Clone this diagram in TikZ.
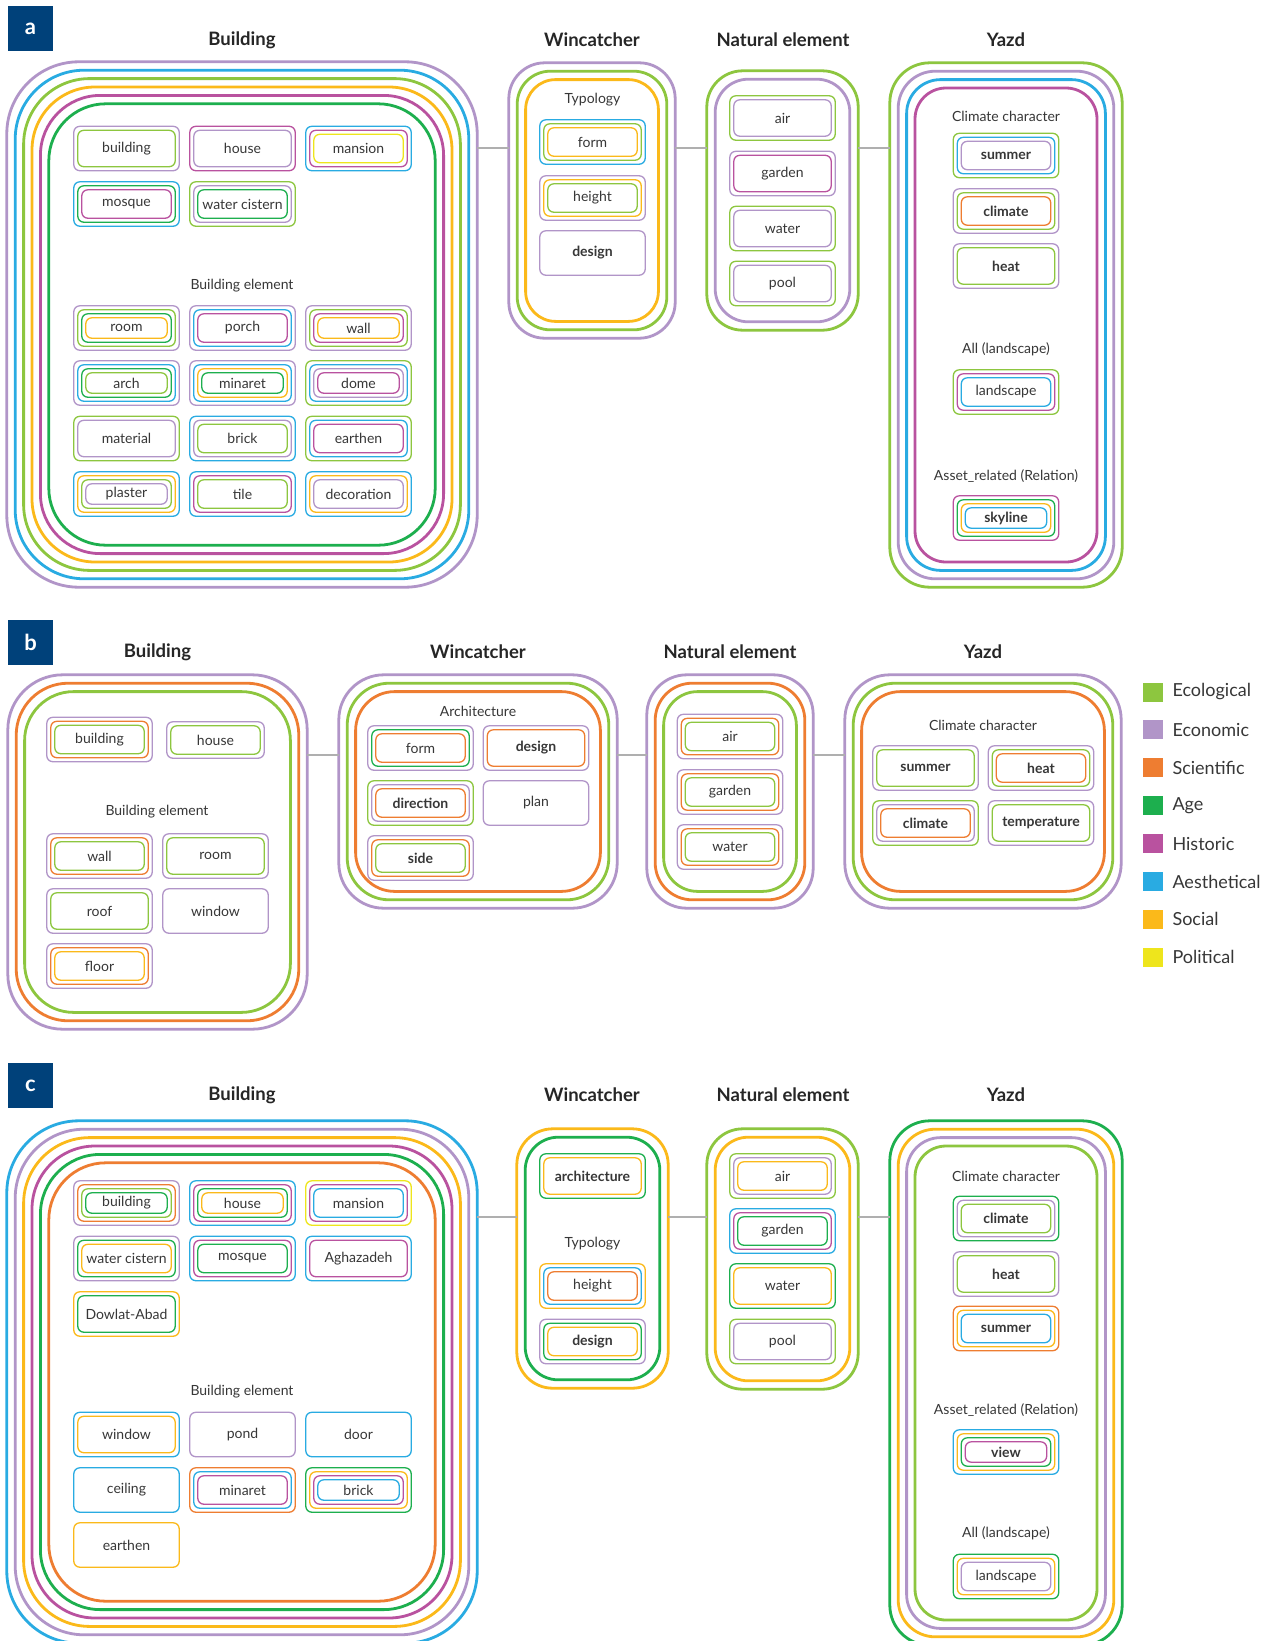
\documentclass[tikz,border=0pt]{standalone}
\usepackage{fontspec}
\setmainfont{Lato}
\usetikzlibrary{calc,fit}

%% value colours
\definecolor{eco}{RGB}{141,198,63}
\definecolor{econ}{RGB}{177,149,200}
\definecolor{sci}{RGB}{238,125,49}
\definecolor{age}{RGB}{29,175,78}
\definecolor{hist}{RGB}{185,82,159}
\definecolor{aes}{RGB}{41,171,226}
\definecolor{soc}{RGB}{251,185,26}
\definecolor{pol}{RGB}{238,229,28}
\definecolor{panelblue}{RGB}{0,65,122}
\definecolor{linkgray}{RGB}{175,175,175}
\definecolor{ink}{RGB}{55,55,55}

\tikzset{
  zonenode/.style={inner sep=0pt, draw=none},
  zoneline/.style={line width=2.8pt},
  chipnode/.style={inner sep=0pt, minimum width=105pt, minimum height=44pt,
    text=ink, font=\fontsize{14}{16}\selectfont},
  chipline/.style={line width=1.3pt, rounded corners=6pt},
  heading/.style={font=\fontsize{18.5}{22}\selectfont\bfseries, text=black!85},
  sublabel/.style={font=\fontsize{14}{16}\selectfont, text=ink},
  paneltag/.style={fill=panelblue, text=white, minimum size=45pt, inner sep=0pt,
    font=\fontsize{22}{24}\selectfont\bfseries},
  linkline/.style={draw=linkgray, line width=1.2pt},
  legendsq/.style={minimum width=20pt, minimum height=19pt, inner sep=0pt},
  legendtx/.style={anchor=west, font=\fontsize{18}{20}\selectfont, text=ink},
}

%% item box: [opts]{name}{x}{y}{colours outer->inner}{text}
\newcommand{\chipbox}[6][]{%
  \node[chipnode,#1] (#2) at (#3,#4) {#6};
  \foreach \c [count=\i from 0] in {#5}
    \draw[chipline, draw=\c] ($(#2.north west)+(4*\i,4*\i)$) rectangle ($(#2.south east)-(4*\i,4*\i)$);
}
%% group frame: {name}{x1}{y1}{x2}{y2}{radius}{colours outer->inner}
\newcommand{\zonebox}[7]{%
  \node[zonenode, fit={(#2,#3) (#4,#5)}] (#1) {};
  \foreach \c [count=\i from 0] in {#7}
    \draw[zoneline, draw=\c, rounded corners=#6-3*\i] ($(#1.north west)+(8.4*\i,8.4*\i)$) rectangle ($(#1.south east)-(8.4*\i,8.4*\i)$);
}

\begin{document}
\begin{tikzpicture}[x=1pt,y=-1pt]
    \path[use as bounding box, fill=white] (0,0) rectangle (1274,1641);

    %% ---------------- panel a
    \node[paneltag] (a-tag) at (30.5,28.5) {a};
    \node[heading] (a-t1) at (242,40) {Building};
    \node[heading] (a-t2) at (592,40) {Wincatcher};
    \node[heading] (a-t3) at (783,40) {Natural element};
    \node[heading] (a-t4) at (1006,40) {Yazd};

    \zonebox{a-build}{7}{62}{477}{587}{72}{econ,aes,eco,soc,hist,age}
    \zonebox{a-wind}{509}{63}{675}{338}{36}{econ,eco,soc}
    \zonebox{a-nat}{707}{71}{858}{330}{36}{eco,econ}
    \zonebox{a-yazd}{890}{63}{1122}{587}{40}{eco,econ,aes,hist}
    \coordinate (a-link) at (0,148);
    \draw[linkline] (a-build.east |- a-link) -- (a-wind.west |- a-link);
    \draw[linkline] (a-wind.east |- a-link) -- (a-nat.west |- a-link);
    \draw[linkline] (a-nat.east |- a-link) -- (a-yazd.west |- a-link);

    \chipbox{a-building}{126.5}{148.5}{econ,eco}{building}
    \chipbox{a-house}{242.5}{148.5}{hist,econ}{house}
    \chipbox{a-mansion}{358.5}{148.5}{aes,hist,pol}{mansion}
    \chipbox{a-mosque}{126.5}{204}{aes,age,hist}{mosque}
    \chipbox{a-cistern}{242.5}{204}{eco,econ,age}{water cistern}
    \node[sublabel] (a-s1) at (242,286) {Building element};
    \chipbox{a-room}{126.5}{328}{econ,eco,age,soc}{room}
    \chipbox{a-porch}{242.5}{328}{econ,aes,hist}{porch}
    \chipbox{a-wall}{358.5}{328}{econ,eco,hist,soc}{wall}
    \chipbox{a-arch}{126.5}{383}{econ,aes,age,eco}{arch}
    \chipbox{a-minaret}{242.5}{383}{econ,aes,soc,age}{minaret}
    \chipbox{a-dome}{358.5}{383}{eco,aes,econ,hist}{dome}
    \chipbox{a-material}{126.5}{438.5}{eco,econ}{material}
    \chipbox{a-brick}{242.5}{438.5}{aes,econ,eco}{brick}
    \chipbox{a-earthen}{358.5}{438.5}{eco,aes,hist}{earthen}
    \chipbox{a-plaster}{126.5}{494}{aes,soc,eco,econ}{plaster}
    \chipbox{a-tile}{242.5}{494}{aes,hist,eco}{tile}
    \chipbox{a-decor}{358.5}{494}{aes,soc,econ}{decoration}

    \node[sublabel] (a-s2) at (592.5,100) {Typology};
    \chipbox{a-form}{592.5}{142}{aes,eco,soc}{form}
    \chipbox{a-height}{592.5}{198}{econ,soc,eco}{height}
    \chipbox{a-design}{592.5}{253}{econ}{\textbf{design}}

    \chipbox{a-air}{782.5}{118}{eco,econ}{air}
    \chipbox{a-garden}{782.5}{173.5}{econ,hist}{garden}
    \chipbox{a-water}{782.5}{228.5}{eco,econ}{water}
    \chipbox{a-pool}{782.5}{283.5}{eco,econ}{pool}

    \node[sublabel] (a-s3) at (1006,116) {Climate character};
    \chipbox{a-summer}{1006}{155.5}{eco,aes,econ}{\textbf{summer}}
    \chipbox{a-climate}{1006}{211}{econ,eco,sci}{\textbf{climate}}
    \chipbox{a-heat}{1006}{266}{econ,eco}{\textbf{heat}}
    \node[sublabel] (a-s4) at (1006,349) {All (landscape)};
    \chipbox{a-landscape}{1006}{392}{eco,hist,aes}{landscape}
    \node[sublabel] (a-s5) at (1006,476) {Asset\_related (Relation)};
    \chipbox{a-skyline}{1006}{518}{hist,age,soc,aes}{\textbf{skyline}}

    %% ---------------- panel b
    \node[paneltag] (b-tag) at (30.5,642.5) {b};
    \node[heading] (b-t1) at (157.5,652) {Building};
    \node[heading] (b-t2) at (478,652) {Wincatcher};
    \node[heading] (b-t3) at (730,652) {Natural element};
    \node[heading] (b-t4) at (983,652) {Yazd};

    \zonebox{b-build}{8}{675}{307}{1029}{55}{econ,sci,eco}
    \zonebox{b-wind}{339}{675}{617}{908}{45}{econ,eco,sci}
    \zonebox{b-nat}{647}{675}{813}{908}{40}{econ,sci,eco}
    \zonebox{b-yazd}{845}{675}{1121}{908}{45}{econ,eco,sci}
    \coordinate (b-link) at (0,755);
    \draw[linkline] (b-build.east |- b-link) -- (b-wind.west |- b-link);
    \draw[linkline] (b-wind.east |- b-link) -- (b-nat.west |- b-link);
    \draw[linkline] (b-nat.east |- b-link) -- (b-yazd.west |- b-link);

    \chipbox{b-building}{99.5}{739.5}{econ,sci,eco}{building}
    \chipbox[minimum width=97pt,minimum height=36pt]{b-house}{215.5}{740}{econ,eco}{house}
    \node[sublabel] (b-s1) at (157,812) {Building element};
    \chipbox{b-wall}{99.5}{856}{econ,sci,eco}{wall}
    \chipbox{b-room}{215.5}{856}{econ,eco}{room}
    \chipbox{b-roof}{99.5}{911}{econ,eco}{roof}
    \chipbox{b-window}{215.5}{911}{econ}{window}
    \chipbox{b-floor}{99.5}{966}{econ,sci,soc}{floor}

    \node[sublabel] (b-s2) at (478,711) {Architecture};
    \chipbox{b-form}{420.5}{748}{econ,age,sci}{form}
    \chipbox{b-design}{536}{748}{econ,sci}{\textbf{design}}
    \chipbox{b-direction}{420.5}{803}{eco,econ,sci}{\textbf{direction}}
    \chipbox{b-plan}{536}{803}{econ}{plan}
    \chipbox{b-side}{420.5}{858}{econ,sci,eco}{\textbf{side}}

    \chipbox{b-air}{730}{736.5}{econ,sci,eco}{air}
    \chipbox{b-garden}{730}{792}{econ,sci,eco}{garden}
    \chipbox{b-water}{730}{847}{econ,sci,eco}{water}

    \node[sublabel] (b-s3) at (983,725) {Climate character};
    \chipbox{b-summer}{925.5}{768}{econ,eco}{\textbf{summer}}
    \chipbox{b-heat}{1041}{768}{econ,eco,sci}{\textbf{heat}}
    \chipbox{b-climate}{925.5}{823}{eco,econ,sci}{\textbf{climate}}
    \chipbox{b-temp}{1041}{823}{econ,eco}{\textbf{temperature}}

    %% legend
    \foreach \c/\t [count=\i from 0] in {eco/Ecological, econ/Economic, sci/Scientific, age/Age,
        hist/Historic, aes/Aesthetical, soc/Social, pol/Political} {
      \node[legendsq, fill=\c] (key-\i) at (1153,692+37.9*\i) {};
      \node[legendtx] (keytx-\i) at (1169,692+37.9*\i) {\t};
    }

    %% ---------------- panel c
    \node[paneltag] (c-tag) at (30.5,1085.5) {c};
    \node[heading] (c-t1) at (242,1095) {Building};
    \node[heading] (c-t2) at (592,1095) {Wincatcher};
    \node[heading] (c-t3) at (783,1095) {Natural element};
    \node[heading] (c-t4) at (1006,1095) {Yazd};

    \zonebox{c-build}{7}{1121}{477}{1643}{72}{aes,econ,soc,hist,age,sci}
    \zonebox{c-wind}{517}{1129}{668}{1388}{36}{soc,age}
    \zonebox{c-nat}{707}{1129}{858}{1389}{36}{eco,soc}
    \zonebox{c-yazd}{890}{1121}{1122}{1645}{40}{age,soc,econ,eco}
    \coordinate (c-link) at (0,1217);
    \draw[linkline] (c-build.east |- c-link) -- (c-wind.west |- c-link);
    \draw[linkline] (c-wind.east |- c-link) -- (c-nat.west |- c-link);
    \draw[linkline] (c-nat.east |- c-link) -- (c-yazd.west |- c-link);

    \chipbox{c-building}{126.5}{1203}{econ,sci,eco,age}{building}
    \chipbox{c-house}{242.5}{1203}{aes,hist,age,soc}{house}
    \chipbox{c-mansion}{358.5}{1203}{pol,hist,aes}{mansion}
    \chipbox{c-cistern}{126.5}{1258.5}{econ,age,soc}{water cistern}
    \chipbox{c-mosque}{242.5}{1258.5}{aes,hist,age}{mosque}
    \chipbox{c-aghazadeh}{358.5}{1258.5}{aes,hist}{Aghazadeh}
    \chipbox{c-dowlat}{126.5}{1314}{soc,age}{Dowlat-Abad}
    \node[sublabel] (c-s1) at (242,1392) {Building element};
    \chipbox{c-window}{126.5}{1434.5}{aes,soc}{window}
    \chipbox{c-pond}{242.5}{1434.5}{econ}{pond}
    \chipbox{c-door}{358.5}{1434.5}{aes}{door}
    \chipbox{c-ceiling}{126.5}{1490}{aes}{ceiling}
    \chipbox{c-minaret}{242.5}{1490}{sci,aes,hist}{minaret}
    \chipbox{c-brick}{358.5}{1490}{age,soc,hist,aes}{brick}
    \chipbox{c-earthen}{126.5}{1545}{soc}{earthen}

    \chipbox{c-arch}{592.5}{1176}{age,soc}{\textbf{architecture}}
    \node[sublabel] (c-s2) at (592.5,1244) {Typology};
    \chipbox{c-height}{592.5}{1286}{soc,aes,sci}{height}
    \chipbox{c-design}{592.5}{1341.5}{econ,age,soc}{\textbf{design}}

    \chipbox{c-air}{782.5}{1176}{eco,econ,soc}{air}
    \chipbox{c-garden}{782.5}{1231}{aes,hist,age}{garden}
    \chipbox{c-water}{782.5}{1286}{age,soc}{water}
    \chipbox{c-pool}{782.5}{1341.5}{eco,econ}{pool}

    \node[sublabel] (c-s3) at (1006,1176) {Climate character};
    \chipbox{c-climate}{1006}{1218.5}{age,econ,eco}{\textbf{climate}}
    \chipbox{c-heat}{1006}{1274}{econ,eco}{\textbf{heat}}
    \chipbox{c-summer}{1006}{1328.5}{sci,soc,aes}{\textbf{summer}}
    \node[sublabel] (c-s4) at (1006,1410) {Asset\_related (Relation)};
    \chipbox{c-view}{1006}{1452}{aes,soc,age,hist}{\textbf{view}}
    \node[sublabel] (c-s5) at (1006,1533) {All (landscape)};
    \chipbox{c-landscape}{1006}{1576.5}{age,soc,econ}{landscape}
\end{tikzpicture}
\end{document}
